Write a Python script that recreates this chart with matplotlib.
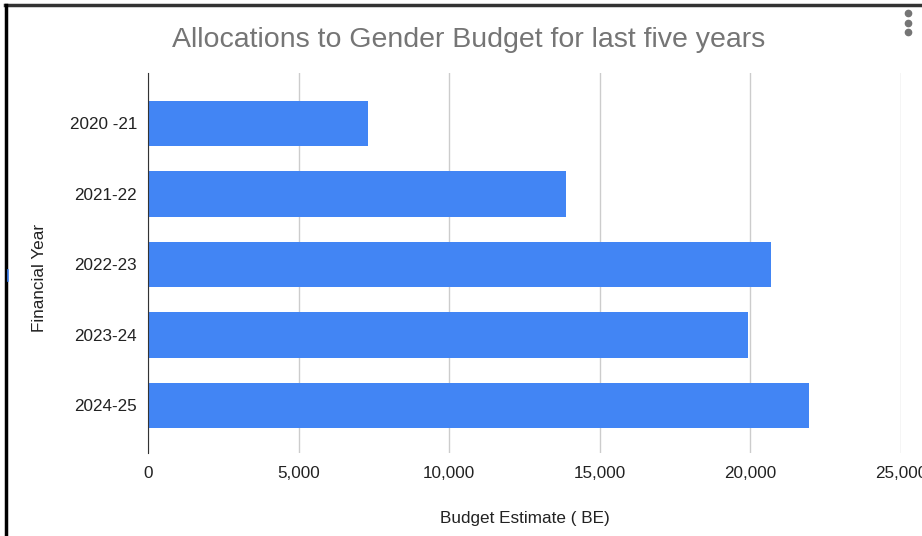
import matplotlib.pyplot as plt
import numpy as np
from matplotlib.lines import Line2D
from matplotlib.ticker import FuncFormatter

# Allocations to Gender Budget (BE)
years = ["2020 -21", "2021-22", "2022-23", "2023-24", "2024-25"]
budget = [7310, 13880, 20690, 19925, 21930]
xticks = [0, 5000, 10000, 15000, 20000, 25000]

plt.rcParams['font.family'] = ['Liberation Sans', 'DejaVu Sans']

W, H = 922, 536
fig = plt.figure(figsize=(W / 100, H / 100), dpi=100)
ax = fig.add_axes([148 / W, 1 - 453 / H, (901 - 148) / W, (453 - 73) / H])

y = np.arange(len(years))
ax.barh(y, budget, height=0.645, color="#4285F4", zorder=3)

ax.set_xlim(0, 25000)
ax.set_ylim(len(years) - 1 + 0.677, -0.713)
ax.set_yticks(y)
ax.set_yticklabels(years)
ax.set_xticks(xticks)
ax.xaxis.set_major_formatter(FuncFormatter(lambda v, p: f"{int(v):,}"))
ax.tick_params(axis="both", length=0, labelsize=12.3, labelcolor="#222222")
ax.tick_params(axis="x", pad=9)
ax.tick_params(axis="y", pad=8)

ax.grid(axis="x", color="#cccccc", lw=1, zorder=0)
for s in ["top", "right", "bottom"]:
    ax.spines[s].set_visible(False)
ax.spines["left"].set_color("#333333")
ax.spines["left"].set_zorder(4)

ax.set_xlabel("Budget Estimate ( BE)", fontsize=12.3, color="#222222", labelpad=22)
ax.set_ylabel("Financial Year", fontsize=12.3, color="#222222")
ax.yaxis.set_label_coords(-0.134, 0.46)

fig.text(469 / W, 1 - 40 / H, "Allocations to Gender Budget for last five years",
         fontsize=20.5, color="#757575", ha="center", va="center")

# screenshot frame, menu dots, small mark on the left
fig.add_artist(Line2D([5 / W, 1], [1 - 5 / H, 1 - 5 / H], color="#333333", lw=2.5))
fig.add_artist(Line2D([6 / W, 6 / W], [0, 1 - 5 / H], color="black", lw=2.5))
fig.add_artist(Line2D([908 / W] * 3, [1 - 13 / H, 1 - 23 / H, 1 - 32 / H],
                      marker="o", ls="none", ms=4.5, color="#757575"))
fig.add_artist(Line2D([7.5 / W, 7.5 / W], [1 - 270 / H, 1 - 281 / H], color="#4285F4", lw=1.2))

fig.savefig("out.png", dpi=100)
